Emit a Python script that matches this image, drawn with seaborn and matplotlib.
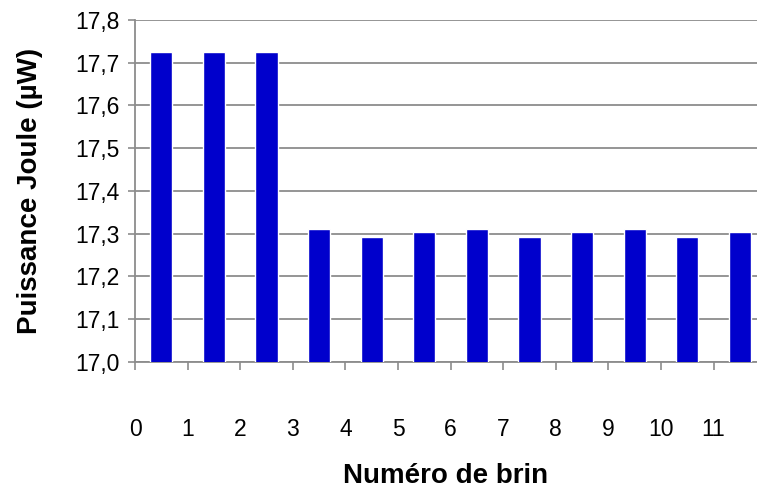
import matplotlib
matplotlib.use("Agg")
import matplotlib.pyplot as plt
import numpy as np
import pandas as pd
import seaborn as sns
from matplotlib.ticker import FuncFormatter, FixedLocator

# ── données ──────────────────────────────────
brins = [str(i) for i in range(1, 13)]
puissance = [17.725, 17.725, 17.725, 17.310, 17.293, 17.303,
             17.310, 17.293, 17.303, 17.310, 17.293, 17.303]
tick_labels = [str(i) for i in range(0, 12)]

sns.set_style("white")
plt.rcParams["font.family"] = ["Liberation Sans", "DejaVu Sans"]
plt.rcParams["text.color"] = "black"
plt.rcParams["axes.labelcolor"] = "black"

df = pd.DataFrame({"brin": brins, "puissance": puissance})

fig = plt.figure(figsize=(7.57, 4.90), dpi=100)
ax = fig.add_axes([135 / 757, 128 / 490, 622 / 757, 342 / 490])

sns.barplot(data=df, x="brin", y="puissance", color="#0000CC",
            saturation=1, width=0.42, ax=ax, zorder=3)

ax.set_ylim(17.0, 17.8)
ax.set_xlim(-0.5, -0.5 + 622 / 52.6)
ax.set_yticks(np.arange(17.0, 17.81, 0.1))
ax.yaxis.set_major_formatter(FuncFormatter(lambda v, p: f"{v:.1f}".replace(".", ",")))
ax.grid(axis="y", color="#8c8c8c", linewidth=1.3, zorder=0)

# étiquettes aux limites des catégories (style Excel)
ax.xaxis.set_major_locator(FixedLocator(np.arange(-0.5, 11.0, 1.0)))
ax.set_xticklabels(tick_labels)

for s in ["top", "right"]:
    ax.spines[s].set_visible(False)
for s in ["left", "bottom"]:
    ax.spines[s].set_color("#8c8c8c")
    ax.spines[s].set_linewidth(1.3)

ax.tick_params(axis="x", bottom=True, direction="out", length=6, width=1.2,
               color="#8c8c8c", labelcolor="black", pad=34, labelsize=16.5)
ax.tick_params(axis="y", left=True, direction="out", length=5, width=1.2,
               color="#8c8c8c", labelcolor="black", pad=6, labelsize=16.5)

ax.set_xlabel("Numéro de brin", fontsize=20, fontweight="bold", labelpad=16)
ax.set_ylabel("Puissance Joule (µW)", fontsize=20, fontweight="bold", labelpad=23)

fig.savefig("out.png", dpi=100)
